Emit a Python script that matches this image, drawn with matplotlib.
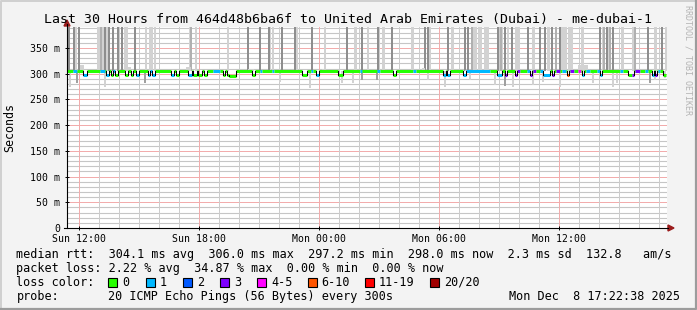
"""SmokePing style latency chart: 30 h of pings to me-dubai-1."""
import matplotlib
matplotlib.use("Agg")
import matplotlib.pyplot as plt
from matplotlib.patches import Rectangle, Polygon
from matplotlib.lines import Line2D

W, H = 697, 310
MONO = "DejaVu Sans Mono"

# ── data ─────────────────────────────────────────────────────────────
# time is hours after Sun 11:22:38 (window ends Mon 17:22:38)
SPAN_H = 30.0
LINE_END_H = 29.95
FIRST_LABEL_H = 0.623            # Sun 12:00
x_labels = ["Sun 12:00", "Sun 18:00", "Mon 00:00", "Mon 06:00", "Mon 12:00"]
y_ticks = [0, 50, 100, 150, 200, 250, 300, 350]
y_labels = ["0", "50 m", "100 m", "150 m", "200 m", "250 m", "300 m", "350 m"]
Y_MAX = 391

BASE_MS = 305.0                  # usual median rtt
# stretches where the median differs from base or has packet loss
dev_t0 = [0.30, 0.80, 1.65, 1.95, 2.20, 2.30, 2.40, 2.90, 3.20, 3.45,
          4.05, 4.15, 4.25, 5.20, 5.45, 6.05, 6.30, 6.55, 6.85, 7.30,
          7.80, 8.00, 8.10, 9.25, 9.65, 10.25, 11.75, 12.20, 12.45, 13.55,
          14.65, 15.50, 16.30, 17.30, 18.80, 19.00, 19.80, 19.95, 21.50, 21.90,
          22.40, 22.50, 23.00, 23.15, 23.30, 23.65, 23.80, 24.25, 24.45, 24.75,
          25.00, 25.15, 25.55, 25.75, 25.95, 26.50, 26.65, 27.65, 28.05, 28.25,
          28.40, 28.90, 29.25, 29.40, 29.55, 29.80]
dev_t1 = [0.50, 1.00, 1.90, 2.10, 2.30, 2.40, 2.55, 3.05, 3.30, 3.60,
          4.15, 4.25, 4.40, 5.35, 5.60, 6.25, 6.50, 6.75, 7.00, 7.65,
          7.90, 8.10, 8.45, 9.40, 9.75, 10.35, 12.00, 12.30, 12.60, 13.80,
          14.75, 15.65, 16.45, 17.45, 18.95, 19.15, 19.95, 21.15, 21.75, 22.00,
          22.50, 22.65, 23.15, 23.25, 23.45, 23.80, 24.15, 24.35, 24.65, 24.95,
          25.10, 25.35, 25.70, 25.85, 26.15, 26.65, 26.75, 27.80, 28.25, 28.35,
          28.65, 29.05, 29.35, 29.50, 29.65, 29.95]
dev_val = [305, 298, 305, 298, 298, 305, 298, 298, 298, 298,
           298, 305, 298, 298, 298, 298, 298, 298, 298, 305,
           298, 298, 296, 298, 305, 305, 298, 305, 298, 298,
           305, 305, 298, 305, 298, 298, 298, 305, 298, 298,
           298, 305, 305, 298, 305, 305, 298, 298, 305, 305,
           298, 305, 305, 298, 305, 305, 298, 305, 297, 298,
           305, 305, 298, 298, 305, 298]
dev_loss = [1, 1, 1, 1, 0, 1, 0, 0, 0, 1,
            1, 1, 1, 1, 0, 1, 0, 0, 0, 1,
            0, 0, 0, 0, 1, 1, 0, 1, 1, 0,
            1, 1, 0, 1, 1, 1, 1, 1, 1, 3,
            3, 3, 1, 3, 3, 1, 1, 3, 3, 1,
            7, 3, 4, 1, 1, 1, 1, 1, 0, 3,
            3, 1, 1, 3, 1, 0]

# smoke: pings far above the median (clipped at the top of the graph)
dark_t = [0.10, 0.35, 0.60, 1.90, 2.10, 2.30, 2.55, 2.75, 3.40, 9.05,
          9.65, 10.10, 10.75, 11.40, 12.25, 14.00, 14.75, 15.55, 16.25, 17.90,
          18.05, 19.05, 19.90, 20.05, 21.55, 21.90, 22.25, 23.05, 23.65, 23.90,
          24.25, 24.65, 26.65, 27.00, 27.30, 29.05, 29.75]
mid_t = [1.70, 6.20, 20.25, 21.70, 24.45, 26.85, 27.15, 28.40]
light_t = [0.45, 1.55, 1.65, 1.80, 2.00, 2.90, 3.00, 3.95, 4.15, 4.25,
           4.40, 6.15, 6.45, 8.05, 10.15, 10.30, 11.50, 12.90, 14.40, 15.05,
           15.80, 17.25, 18.15, 19.25, 20.35, 20.65, 20.95, 21.75, 22.05, 22.50,
           23.30, 24.05, 24.85, 25.15, 25.75, 26.80, 27.05, 27.75, 28.30, 29.40,
           29.95]
light_w = [0.10, 0.10, 0.08, 0.10, 0.08, 0.10, 0.08, 0.10, 0.10, 0.08,
           0.10, 0.10, 0.10, 0.10, 0.10, 0.10, 0.10, 0.10, 0.15, 0.10,
           0.15, 0.15, 0.10, 0.15, 0.25, 0.20, 0.25, 0.10, 0.10, 0.25,
           0.15, 0.15, 0.30, 0.25, 0.15, 0.15, 0.10, 0.15, 0.15, 0.15,
           0.10]

# smoke: fastest pings below the median
low_t = [0.15, 0.50, 1.90, 3.90, 10.65, 12.15, 13.75, 14.30, 14.75, 15.50,
         18.05, 18.90, 20.15, 21.40, 21.90, 22.30, 23.30, 23.80, 24.65, 26.30,
         27.30, 27.50, 29.15, 29.40, 29.90]
low_ms = [274, 282, 274, 282, 284, 272, 282, 282, 288, 288,
          288, 274, 288, 278, 276, 274, 278, 284, 274, 282,
          274, 282, 282, 288, 292]
low_dark = [0, 1, 0, 1, 0, 0, 0, 0, 1, 1,
            0, 0, 0, 0, 1, 0, 0, 0, 0, 0,
            0, 0, 1, 0, 0]

# smoke: slightly slow pings just above the median
bump_t = [0.75, 3.10, 6.05, 9.20, 12.85, 17.80, 20.10, 25.80]
bump_w = [0.20, 0.15, 0.25, 0.30, 0.20, 0.15, 0.40, 0.50]
bump_ms = [318, 313, 313, 310, 310, 311, 308, 317]

loss_colors = ["#26ff00", "#00b8ff", "#0059ff", "#7e00ff",
               "#ff00ff", "#ff5500", "#ff0000", "#a10000"]
loss_names = ["0", "1", "2", "3", "4-5", "6-10", "11-19", "20/20"]

rtt_line = ("median rtt:  304.1 ms avg  306.0 ms max  297.2 ms min  "
            "298.0 ms now  2.3 ms sd  132.8   am/s")
loss_line = "packet loss: 2.22 % avg  34.87 % max  0.00 % min  0.00 % now"
probe_text = "20 ICMP Echo Pings (56 Bytes) every 300s"
stamp = "Mon Dec  8 17:22:38 2025"
title = ("Last 30 Hours from 464d48b6ba6f to United Arab Emirates (Dubai)"
         " - me-dubai-1")


def bucket(loss):
    if loss <= 3:
        return loss
    if loss <= 5:
        return 4
    if loss <= 10:
        return 5
    if loss <= 19:
        return 6
    return 7


def fx(px):
    return px / W


def fy(py):
    return 1 - py / H


# ── figure ───────────────────────────────────────────────────────────
fig = plt.figure(figsize=(W / 100, H / 100), dpi=100, facecolor="#f3f3f3")
ax = fig.add_axes([fx(67), fy(228), 600 / W, 201 / H])
ax.set_facecolor("white")
ax.set_xlim(0, SPAN_H)
ax.set_ylim(0, Y_MAX)

# grid (the rrdtool dotted grid reads as a pale line at this size)
minor_y = [v for v in range(10, Y_MAX, 10) if v % 50]
major_y = [v for v in range(50, Y_MAX, 50)]
hours = [FIRST_LABEL_H + k for k in range(30) if FIRST_LABEL_H + k < SPAN_H]
minor_c, major_c = "#cccccc", "#f2acac"
ax.hlines(minor_y, 0, SPAN_H, colors="#c6c6c6", linewidths=0.8,
          antialiased=True, zorder=0.5)
for v in major_y:
    ax.axhline(v, color=major_c, lw=0.72, antialiased=False, zorder=0.6)
for k, h in enumerate(hours):
    ax.axvline(h, color=major_c if k % 6 == 0 else minor_c, lw=0.72,
               antialiased=False, zorder=0.6)

# smoke
ax.bar(light_t, Y_MAX - BASE_MS, bottom=BASE_MS, width=light_w,
       color="#d2d2d2", linewidth=0, zorder=1)
ax.bar(mid_t, Y_MAX - BASE_MS, bottom=BASE_MS, width=0.08,
       color="#b0b0b0", linewidth=0, zorder=1)
ax.bar(dark_t, Y_MAX - BASE_MS, bottom=BASE_MS, width=0.09,
       color="#8e8e8e", linewidth=0, zorder=1)
ax.bar(bump_t, [b - BASE_MS for b in bump_ms], bottom=BASE_MS, width=bump_w,
       color="#d2d2d2", linewidth=0, zorder=1)
for t, lo, dk in zip(low_t, low_ms, low_dark):
    ax.bar(t, BASE_MS - lo, bottom=lo, width=0.08,
           color="#a0a0a0" if dk else "#d2d2d2", linewidth=0, zorder=1)

# median line, coloured by loss
pieces = []
t = 0.0
for t0, t1, v, loss in sorted(zip(dev_t0, dev_t1, dev_val, dev_loss)):
    if t0 > t:
        pieces.append((t, t0, BASE_MS, 0))
    pieces.append((t0, t1, v, loss))
    t = t1
if t < LINE_END_H:
    pieces.append((t, LINE_END_H, BASE_MS, 0))

for t0, t1, v, loss in pieces:
    ax.plot([t0, t1], [v, v], color=loss_colors[bucket(loss)], lw=2.2,
            solid_capstyle="butt", zorder=3)
for a, b in zip(pieces[:-1], pieces[1:]):
    if a[2] != b[2]:
        ax.plot([a[1], a[1]], [a[2], b[2]], color="black", lw=0.75, zorder=4)

# axes furniture
for s in ("top", "right", "left", "bottom"):
    ax.spines[s].set_visible(False)
ax.set_xticks([FIRST_LABEL_H + 6 * i for i in range(len(x_labels))])
ax.set_xticklabels(x_labels, fontfamily=MONO, fontsize=7.1)
ax.set_yticks(y_ticks)
ax.set_yticklabels(y_labels, fontfamily=MONO, fontsize=7.1)
ax.tick_params(axis="x", length=3, width=0.7, direction="inout", pad=2.6)
ax.tick_params(axis="y", length=3, width=0.7, direction="inout", pad=3.5)

fig.add_artist(Line2D([fx(67), fx(67)], [fy(228), fy(24)], color="black",
                      lw=0.8, transform=fig.transFigure))
fig.add_artist(Line2D([fx(64), fx(668)], [fy(228), fy(228)], color="black",
                      lw=0.8, transform=fig.transFigure))
arrow_red = "#9b1c1c"
fig.add_artist(Polygon([(fx(64), fy(26)), (fx(70), fy(26)), (fx(67), fy(20))],
                       closed=True, color=arrow_red, transform=fig.transFigure))
fig.add_artist(Polygon([(fx(668), fy(225)), (fx(668), fy(231)),
                        (fx(674), fy(228))],
                       closed=True, color=arrow_red, transform=fig.transFigure))

# border
fig.add_artist(Line2D([fx(0.5), fx(0.5), fx(696)], [fy(309), fy(0.5), fy(0.5)],
                      color="#d0d0d0", lw=1.4, transform=fig.transFigure))
fig.add_artist(Line2D([fx(1), fx(696), fx(696)], [fy(309), fy(309), fy(1)],
                      color="#9c9c9c", lw=1.6, transform=fig.transFigure))

# texts
fig.text(fx(348), fy(19), title, fontfamily=MONO, fontsize=9.55,
         ha="center", va="center")
fig.text(fx(10), fy(128), "Seconds", fontfamily=MONO, fontsize=8.4,
         rotation=90, ha="center", va="center")
fig.text(fx(688), fy(60), "RRDTOOL / TOBI OETIKER", fontfamily=MONO,
         fontsize=6.0, rotation=270, ha="center", va="center", color="#b4b4b4")

LEG = 8.5
fig.text(fx(16.4), fy(254.5), rtt_line, fontfamily=MONO, fontsize=LEG,
         va="center")
fig.text(fx(16.4), fy(268.3), loss_line, fontfamily=MONO, fontsize=LEG,
         va="center")
fig.text(fx(16.4), fy(282), "loss color:", fontfamily=MONO, fontsize=LEG,
         va="center")
box_x = [108, 146, 183, 220, 257, 307.6, 365, 430]
for bx, col, name in zip(box_x, loss_colors, loss_names):
    fig.add_artist(Rectangle((fx(bx), fy(286.5)), 9 / W, 9 / H,
                             facecolor=col, edgecolor="black", lw=0.8,
                             transform=fig.transFigure))
    fig.text(fx(bx + 14), fy(282), name, fontfamily=MONO, fontsize=LEG,
             va="center")
fig.text(fx(16.4), fy(296.5), "probe:", fontfamily=MONO, fontsize=LEG,
         va="center")
fig.text(fx(107.6), fy(296.5), probe_text, fontfamily=MONO, fontsize=LEG,
         va="center")
fig.text(fx(680), fy(296.5), stamp, fontfamily=MONO, fontsize=LEG,
         va="center", ha="right")

fig.savefig("out.png", dpi=100, facecolor=fig.get_facecolor())
